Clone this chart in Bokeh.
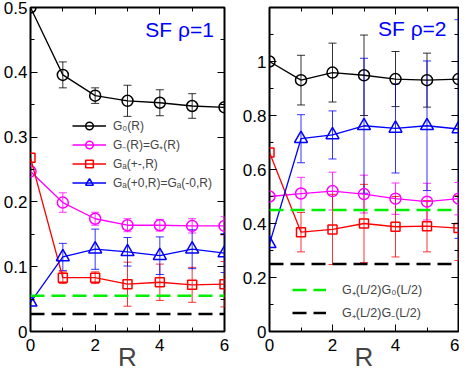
from bokeh.plotting import figure
from bokeh.models import (ColumnDataSource, Whisker, TeeHead, Legend, LegendItem,
                          LinearAxis, SingleIntervalTicker, Label, Range1d)
from bokeh.layouts import row
from bokeh.embed import file_html
from bokeh.resources import INLINE

R = [0, 1, 2, 3, 4, 5, 6]

# Panel 1: SF rho=1
g0_1 = [0.500, 0.396, 0.364, 0.356, 0.353, 0.348, 0.346]
g0_1_err = [0.0, 0.020, 0.012, 0.024, 0.020, 0.019, 0.0]
gm_1 = [0.247, 0.199, 0.174, 0.164, 0.164, 0.163, 0.163]
gm_1_err = [0.0, 0.015, 0.010, 0.010, 0.009, 0.011, 0.014]
gpm_1 = [0.268, 0.083, 0.083, 0.073, 0.076, 0.072, 0.073]
gpm_1_err = [0.0, 0.009, 0.009, 0.034, 0.028, 0.027, 0.035]
gp0_1 = [0.045, 0.115, 0.127, 0.123, 0.117, 0.127, 0.121]
gp0_1_err = [0.0, 0.021, 0.031, 0.022, 0.029, 0.030, 0.030]
green_1 = 0.055
black_1 = 0.027

# Panel 2: SF rho=2
g0_2 = [1.000, 0.931, 0.959, 0.949, 0.935, 0.931, 0.935]
g0_2_err = [0.0, 0.092, 0.109, 0.149, 0.102, 0.100, 0.0]
gm_2 = [0.500, 0.511, 0.520, 0.509, 0.492, 0.481, 0.492]
gm_2_err = [0.0, 0.060, 0.070, 0.070, 0.058, 0.068, 0.060]
gpm_2 = [0.663, 0.368, 0.378, 0.400, 0.388, 0.390, 0.383]
gpm_2_err = [0.0, 0.073, 0.130, 0.145, 0.112, 0.095, 0.120]
gp0_2 = [0.325, 0.714, 0.728, 0.762, 0.752, 0.762, 0.750]
gp0_2_err = [0.0, 0.089, 0.089, 0.250, 0.165, 0.240, 0.405]
green_2 = 0.45
black_2 = 0.25

series_labels = ["G\u2080(R)", "G\u208b(R)=G\u208a(R)", "G\u2090(+-,R)", "G\u2090(+0,R)=G\u2090(-0,R)"]
line_labels = ["G\u208a(L/2)G\u2080(L/2)", "G\u208a(L/2)G\u208b(L/2)"]
colors = ["#000000", "#ff00ff", "#ff0000", "#0000ff"]
markers = ["circle", "circle", "square", "triangle"]
msizes = [11, 11, 9, 13]
FONT = "Liberation Sans"


def make_panel(ys, errs, hl, ymax, yint, title, title_xy, frame_w, bl, br, show_series_legend, legend_loc):
    p = figure(frame_width=frame_w, frame_height=324, output_backend="svg",
               toolbar_location=None, x_range=Range1d(0, 6), y_range=Range1d(0, ymax),
               min_border_left=bl, min_border_right=br, min_border_top=7, min_border_bottom=0)
    p.grid.visible = False
    p.background_fill_color = "white"
    p.border_fill_color = "white"
    p.outline_line_color = "black"
    p.outline_line_width = 2
    p.outline_line_alpha = 1

    xt = SingleIntervalTicker(interval=2, num_minor_ticks=2)
    yt = SingleIntervalTicker(interval=yint, num_minor_ticks=2)
    p.xaxis.ticker = xt
    p.yaxis.ticker = yt
    for ax in (p.xaxis[0], p.yaxis[0]):
        ax.major_tick_in = 7
        ax.major_tick_out = 0
        ax.minor_tick_in = 4
        ax.minor_tick_out = 0
        ax.axis_line_color = None
        ax.major_label_text_font = FONT
        ax.major_label_text_font_size = "17px"
        ax.major_label_text_color = "black"
        ax.major_tick_line_color = "black"
        ax.minor_tick_line_color = "black"
    p.yaxis.major_label_standoff = 3
    p.xaxis.major_label_standoff = 7
    p.xaxis.axis_label = "R"
    p.xaxis.axis_label_text_font = FONT
    p.xaxis.axis_label_text_font_size = "26px"
    p.xaxis.axis_label_text_font_style = "normal"
    p.xaxis.axis_label_standoff = -12
    p.yaxis.formatter.use_scientific = False

    for loc, tk in (("above", xt), ("right", yt)):
        ax = LinearAxis(ticker=tk, major_label_text_font_size="0px", major_label_text_color=None,
                        axis_line_color=None, major_tick_in=7, major_tick_out=0,
                        minor_tick_in=4, minor_tick_out=0, major_label_standoff=0)
        p.add_layout(ax, loc)

    items = []
    for i, (y, e) in enumerate(zip(ys, errs)):
        c = colors[i]
        src = ColumnDataSource(dict(x=R, y=y))
        ln = p.line("x", "y", source=src, line_color=c, line_width=1.3)
        sc = p.scatter("x", "y", source=src, marker=markers[i], size=msizes[i],
                       fill_color=None, line_color=c, line_width=1.5)
        xe = [r for r, ee in zip(R, e) if ee > 0]
        up = [yy + ee for yy, ee in zip(y, e) if ee > 0]
        lo = [yy - ee for yy, ee in zip(y, e) if ee > 0]
        esrc = ColumnDataSource(dict(x=xe, upper=up, lower=lo))
        w = Whisker(source=esrc, base="x", upper="upper", lower="lower", line_color=c,
                    line_width=1, line_alpha=0.8,
                    upper_head=TeeHead(size=8, line_color=c, line_width=1, line_alpha=0.8),
                    lower_head=TeeHead(size=8, line_color=c, line_width=1, line_alpha=0.8))
        p.add_layout(w)
        items.append(LegendItem(label=series_labels[i], renderers=[ln, sc]))

    hitems = []
    for val, c, lab in zip(hl, ["#00ee00", "#000000"], line_labels):
        hsrc = ColumnDataSource(dict(x=[R[0], R[-1]], y=[val, val]))
        hr = p.line("x", "y", source=hsrc, line_color=c, line_width=2.5, line_dash="14 7")
        hitems.append(LegendItem(label=lab, renderers=[hr]))

    if show_series_legend:
        leg = Legend(items=items, location=legend_loc, glyph_width=34, glyph_height=19,
                     label_height=19, label_standoff=7, spacing=0, padding=0, margin=0,
                     background_fill_alpha=0, border_line_color=None,
                     label_text_font=FONT, label_text_font_size="12px")
    else:
        leg = Legend(items=hitems, location=legend_loc, glyph_width=34, glyph_height=19,
                     label_height=19, label_standoff=16, spacing=4, padding=0, margin=0,
                     background_fill_alpha=0, border_line_color=None,
                     label_text_font=FONT, label_text_font_size="12.5px")
    p.add_layout(leg, "center")

    p.add_layout(Label(x=title_xy[0], y=title_xy[1], text=title, text_color="#0000ff",
                       text_font=FONT, text_font_size="21px", text_align="right",
                       text_baseline="middle"))
    return p


p1 = make_panel([g0_1, gm_1, gpm_1, gp0_1], [g0_1_err, gm_1_err, gpm_1_err, gp0_1_err],
                [green_1, black_1], 0.5, 0.1, "SF \u03c1=1", (5.67, 0.466),
                194, 25, 12, True, (42, 139))
p2 = make_panel([g0_2, gm_2, gpm_2, gp0_2], [g0_2_err, gm_2_err, gpm_2_err, gp0_2_err],
                [green_2, black_2], 1.2, 0.2, "SF \u03c1=2", (5.62, 1.123),
                189, 33, 1, False, (23, 9))

layout = row(p1, p2)
open("out.html", "w").write(file_html(layout, INLINE))
